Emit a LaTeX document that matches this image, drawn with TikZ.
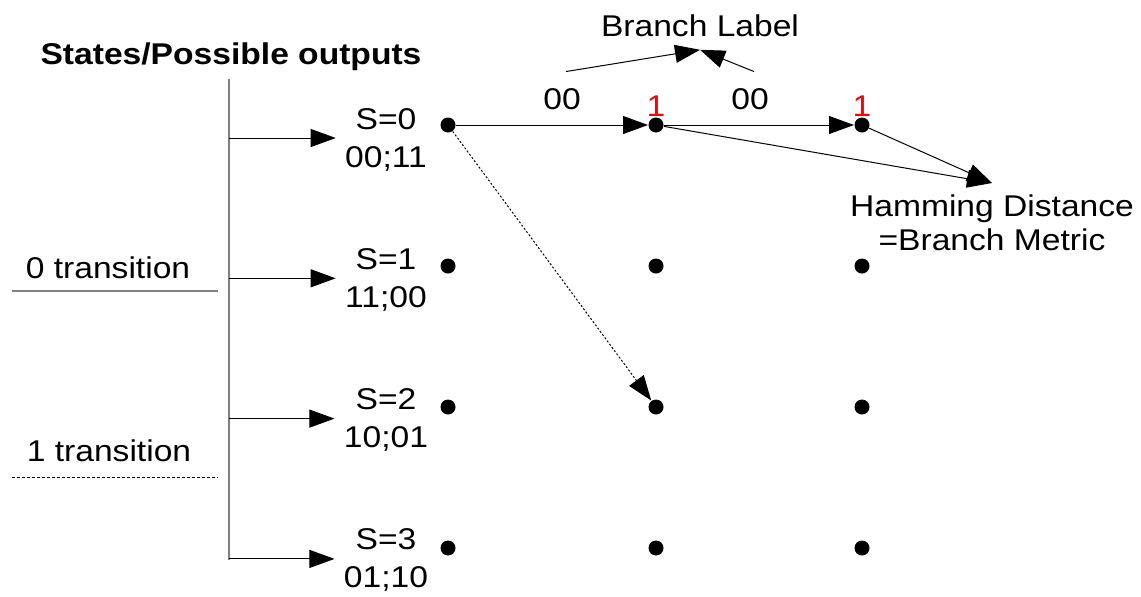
\documentclass[tikz,border=0pt]{standalone}
\usepackage{fontspec}
\setmainfont{Liberation Sans}[FakeStretch=1.12]
\usepackage{tikz}
\usetikzlibrary{arrows.meta}
\definecolor{busgray}{RGB}{128,128,128}

\begin{document}
\begin{tikzpicture}[x=0.5pt,y=-0.5pt,line width=0.5pt,
  txt/.style={font=\fontsize{15}{19}\selectfont,inner sep=0pt,align=center},
  dot/.style={circle,fill,minimum size=7.5pt,inner sep=0pt},
  arr/.style={-{Triangle[length=12.5pt,width=9pt]}}]
  \useasboundingbox (0,0) rectangle (1141,596);

  \node(title)[txt,anchor=base] at (231,64) {\bfseries States/Possible outputs};
  \coordinate (bustop) at (229,79);
  \coordinate (busbot) at (229,560);
  \draw[busgray,line width=0.9pt] (bustop) -- (busbot);

  \node(zero)[txt,anchor=base] at (108,278) {0 transition};
  \node(one)[txt,anchor=base] at (109,461) {1 transition};
  \draw[busgray,line width=0.8pt] (12,291) -- (218,291);
  \draw[dash pattern=on 1.5pt off 1pt] (12,477) -- (218,477);

  \foreach \i/\outs in {0/00;11,1/11;00,2/10;01,3/01;10} {
    \coordinate (b\i) at (229,138+140.3*\i);
    \node(s\i)[txt,inner xsep=4.5pt,anchor=north] at (386,108+140*\i) {S=\i\\\outs};
    \draw[arr] (b\i) -- (b\i -| s\i.west);
    \foreach \j/\x in {0/448,1/656,2/862}
      \node(d\j\i)[dot] at (\x,125+141*\i) {};
  }

  \draw[arr] (d00) -- (d10);
  \draw[arr] (d10) -- (d20);
  \draw[arr,dash pattern=on 1pt off 1pt] (d00) -- (d12);

  \node(m1)[txt,red,anchor=south] at (d10.north) {1};
  \node(m2)[txt,red,anchor=south] at (d20.north) {1};

  \node(l1)[txt,inner ysep=8pt,anchor=base] at (562,109) {00};
  \node(l2)[txt,inner ysep=8pt,anchor=base] at (750,109) {00};
  \node(bl)[txt,inner ysep=6.5pt,anchor=base] at (700,36) {Branch Label};
  \draw[arr] ([xshift=2pt]l1.north) -- (bl.south);
  \draw[arr] ([xshift=2pt]l2.north) -- (bl.south);

  \node(hd)[txt,font=\fontsize{15}{17}\selectfont,inner ysep=5.5pt,anchor=north] at (992,183)
    {Hamming Distance\\=Branch Metric};
  \draw[arr] (d10) -- (hd.north);
  \draw[arr] (d20) -- (hd.north);
\end{tikzpicture}
\end{document}
